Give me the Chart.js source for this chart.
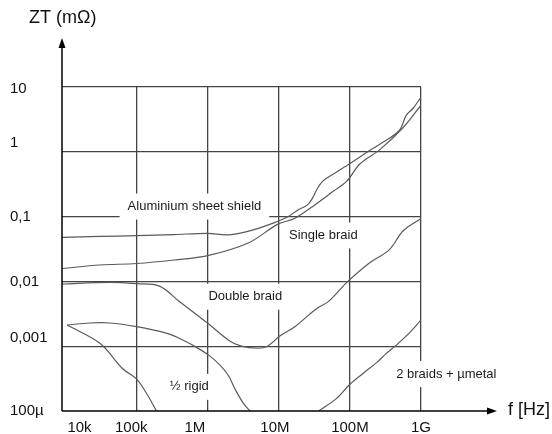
<!DOCTYPE html>
<html><head><meta charset="utf-8">
<script src="https://cdn.jsdelivr.net/npm/chart.js@4"></script>
<style>html,body{margin:0;padding:0;background:#fff}canvas{display:block}</style>
</head><body>
<canvas id="c" width="552" height="434"></canvas>
<script>
// ---------- data (frequency in Hz, transfer impedance ZT in mΩ) ----------
const freqAlu = [8.93e3, 3.04e4, 1e5, 3.37e5, 1e6, 1.96e6, 4.36e6, 9.7e6, 1.36e7, 1.9e7, 2.49e7, 2.96e7, 3.5e7, 4.15e7, 5.26e7, 1.03e8, 1.78e8, 2.7e8, 4.95e8, 6.19e8, 7.74e8, 1e9];
const ztAlu   = [0.0479, 0.0494, 0.0507, 0.0528, 0.0552, 0.0523, 0.0625, 0.0846, 0.1, 0.129, 0.149, 0.191, 0.274, 0.352, 0.422, 0.673, 1.0, 1.33, 2.13, 3.65, 4.7, 6.98];

const freqSingle = [8.93e3, 3.04e4, 1e5, 3.37e5, 1e6, 3.71e6, 9.7e6, 1.66e7, 3.27e7, 5.82e7, 9.03e7, 1.38e8, 2.61e8, 5.62e8, 1e9];
const ztSingle   = [0.0158, 0.0179, 0.0189, 0.0214, 0.0250, 0.0391, 0.0766, 0.0935, 0.154, 0.246, 0.352, 0.649, 1.07, 2.37, 5.23];

const freqDouble = [8.93e3, 4.19e4, 1e5, 2.09e5, 3.95e5, 1e6, 1.96e6, 2.97e6, 5.11e6, 7.03e6, 1.02e7, 1.70e7, 2.67e7, 3.5e7, 4.91e7, 6.59e7, 9.25e7, 1.9e8, 3.6e8, 5.62e8, 1e9];
const ztDouble   = [0.00912, 0.00964, 0.00921, 0.00845, 0.00494, 0.00226, 0.00124, 0.001, 0.00093, 0.00101, 0.00142, 0.00202, 0.00307, 0.0039, 0.00483, 0.00667, 0.0099, 0.0194, 0.031, 0.0605, 0.0935];

const freqRigidA = [1.05e4, 2.2e4, 4.19e4, 1e5, 2.61e5, 3.95e5, 6.0e5, 1.03e6, 1.5e6, 1.96e6, 2.43e6, 3.16e6, 3.92e6];
const ztRigidA   = [2.12e-3, 2.28e-3, 2.28e-3, 2.0e-3, 1.59e-3, 1.33e-3, 1.05e-3, 7.28e-4, 5.05e-4, 3.5e-4, 2.16e-4, 1.32e-4, 1e-4];

const freqRigidB = [1.05e4, 3.04e4, 6.37e4, 1e5, 1.38e5, 1.9e5];
const ztRigidB   = [2.12e-3, 1.11e-3, 4.48e-4, 3.1e-4, 1.86e-4, 1e-4];

const freqMetal = [3.62e7, 6.44e7, 1e8, 1.56e8, 2.37e8, 3.26e8, 4.5e8, 6.81e8, 1e9];
const ztMetal   = [1e-4, 1.55e-4, 2.59e-4, 3.87e-4, 5.57e-4, 7.74e-4, 1.04e-3, 1.59e-3, 2.54e-3];

// axis ranges, tick labels and grid
const xMin = 8.9e3, xMax = 1e9;
const yMin = 1e-4, yMax = 10;
const xTickValues = [1.57e4, 8.4e4, 6.6e5, 8.8e6, 1e8, 1e9];
const xTickLabels = ['10k', '100k', '1M', '10M', '100M', '1G'];
const xGridValues = [1e5, 1e6, 1e7, 1e8, 1e9];
const yTickValues = [1e-4, 1.33e-3, 1e-2, 0.1, 1.36, 9.3];
const yTickLabels = ['100µ', '0,001', '0,01', '0,1', '1', '10'];
const yGridValues = [1e-3, 1e-2, 0.1, 1, 10];

// curve captions
const noteTexts = ['Aluminium sheet shield', 'Single braid', 'Double braid', '½ rigid', '2 braids + µmetal'];
const noteFreq  = [6.5e5, 4.22e7, 3.37e6, 5.5e5, 2.27e9];
const noteZt    = [0.143, 0.0512, 0.0058, 2.36e-4, 3.73e-4];

// ---------- styling ----------
const FONT = '"Liberation Sans", Arial, Helvetica, sans-serif';
const CURVE = '#5a5a5a';
const GRID = '#444';

const toPts = (xs, ys) => xs.map((x, i) => ({x, y: ys[i]}));
const isIn = (v, list) => list.some(t => Math.abs(Math.log10(v) - Math.log10(t)) < 1e-6);
const idxOf = (v, list) => list.findIndex(t => Math.abs(Math.log10(v) - Math.log10(t)) < 1e-6);
const merged = (a, b) => [...a, ...b].sort((p, q) => p - q).filter((v, i, arr) => i === 0 || Math.abs(Math.log10(v) - Math.log10(arr[i - 1])) > 1e-6);

const series = [
  {label: 'Aluminium sheet shield', f: freqAlu, z: ztAlu},
  {label: 'Single braid', f: freqSingle, z: ztSingle},
  {label: 'Double braid', f: freqDouble, z: ztDouble},
  {label: '½ rigid', f: freqRigidA, z: ztRigidA},
  {label: '½ rigid (b)', f: freqRigidB, z: ztRigidB},
  {label: '2 braids + µmetal', f: freqMetal, z: ztMetal}
];

const notePlugin = {
  id: 'notes',
  beforeDatasetsDraw(chart) {
    const {ctx} = chart;
    const xs = chart.scales.x, ys = chart.scales.y;
    ctx.save();
    ctx.font = '13px ' + FONT;
    ctx.textAlign = 'center';
    ctx.textBaseline = 'middle';
    noteTexts.forEach((t, i) => {
      const px = xs.getPixelForValue(noteFreq[i]);
      const py = ys.getPixelForValue(noteZt[i]);
      const w = ctx.measureText(t).width;
      ctx.fillStyle = '#fff';
      ctx.fillRect(px - w / 2 - 8, py - 13, w + 16, 26);
      ctx.fillStyle = '#1a1a1a';
      ctx.fillText(t, px, py);
    });
    ctx.restore();
  }
};

const axesPlugin = {
  id: 'axesArrows',
  afterDraw(chart) {
    const {ctx} = chart;
    const {left, right, top, bottom} = chart.chartArea;
    ctx.save();
    ctx.strokeStyle = '#000';
    ctx.fillStyle = '#000';
    ctx.lineWidth = 1.5;
    // y axis with arrow
    ctx.beginPath();
    ctx.moveTo(left, bottom);
    ctx.lineTo(left, top - 42);
    ctx.stroke();
    ctx.beginPath();
    ctx.moveTo(left, top - 49);
    ctx.lineTo(left - 3.5, top - 39);
    ctx.lineTo(left + 3.5, top - 39);
    ctx.closePath();
    ctx.fill();
    // x axis with arrow
    ctx.beginPath();
    ctx.moveTo(left, bottom);
    ctx.lineTo(right + 68, bottom);
    ctx.stroke();
    ctx.beginPath();
    ctx.moveTo(right + 76, bottom);
    ctx.lineTo(right + 66, bottom - 3.5);
    ctx.lineTo(right + 66, bottom + 3.5);
    ctx.closePath();
    ctx.fill();
    // axis titles
    ctx.font = '18px ' + FONT;
    ctx.fillStyle = '#111';
    ctx.textAlign = 'left';
    ctx.textBaseline = 'middle';
    ctx.fillText('ZT (mΩ)', left - 33, top - 69);
    ctx.fillText('f [Hz]', right + 87, bottom - 1);
    ctx.restore();
  }
};

new Chart(document.getElementById('c').getContext('2d'), {
  type: 'line',
  data: {
    datasets: series.map(s => ({
      label: s.label,
      data: toPts(s.f, s.z),
      borderColor: CURVE,
      borderWidth: 1.2,
      pointRadius: 0,
      tension: 0.35,
      fill: false
    }))
  },
  options: {
    responsive: false,
    animation: false,
    devicePixelRatio: 1,
    layout: {padding: {left: 10, top: 87, right: 131, bottom: 0}},
    plugins: {legend: {display: false}, tooltip: {enabled: false}, title: {display: false}},
    scales: {
      x: {
        type: 'logarithmic',
        min: xMin, max: xMax,
        afterBuildTicks: sc => { sc.ticks = merged(xGridValues, xTickValues).map(v => ({value: v})); },
        afterFit: sc => { sc.height = 23; },
        border: {display: false},
        grid: {
          drawTicks: false,
          lineWidth: 1.3,
          color: c => (c.tick && isIn(c.tick.value, xGridValues)) ? GRID : 'rgba(0,0,0,0)'
        },
        ticks: {
          autoSkip: false, maxRotation: 0, minRotation: 0, padding: 8,
          color: '#111', font: {family: FONT, size: 15},
          callback: v => { const k = idxOf(v, xTickValues); return k < 0 ? '' : xTickLabels[k]; }
        }
      },
      y: {
        type: 'logarithmic',
        min: yMin, max: yMax,
        afterBuildTicks: sc => { sc.ticks = merged(yGridValues, yTickValues).map(v => ({value: v})); },
        afterFit: sc => { sc.width = 52; },
        border: {display: false},
        grid: {
          drawTicks: false,
          lineWidth: 1.3,
          color: c => (c.tick && isIn(c.tick.value, yGridValues)) ? GRID : 'rgba(0,0,0,0)'
        },
        ticks: {
          autoSkip: false, crossAlign: 'far', padding: 0,
          color: '#111', font: {family: FONT, size: 15},
          callback: v => { const k = idxOf(v, yTickValues); return k < 0 ? '' : yTickLabels[k]; }
        }
      }
    }
  },
  plugins: [notePlugin, axesPlugin]
});
</script>
</body></html>
